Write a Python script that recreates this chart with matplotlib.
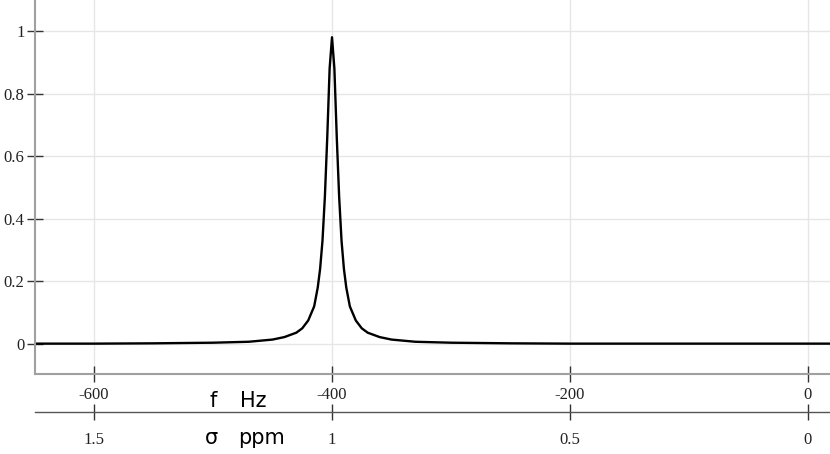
import matplotlib
matplotlib.use('Agg')
import matplotlib.pyplot as plt
from matplotlib.ticker import FuncFormatter

# spectrum
freq_hz = [-650, -600, -550, -500, -470, -450, -440, -430, -425, -420, -415,
           -412, -410, -408, -406, -404, -402, -400, -398, -396, -394, -392,
           -390, -388, -385, -380, -375, -370, -360, -350, -330, -300, -250,
           -200, -150, -100, -50, 0, 20]
amp = [0.001, 0.001, 0.002, 0.004, 0.007, 0.014, 0.022, 0.036, 0.050, 0.075,
       0.120, 0.180, 0.240, 0.330, 0.470, 0.660, 0.880, 0.980, 0.880, 0.660,
       0.470, 0.330, 0.240, 0.180, 0.120, 0.075, 0.050, 0.036, 0.022, 0.014,
       0.007, 0.004, 0.002, 0.001, 0.001, 0.001, 0.001, 0.001, 0.001]

hz_ticks = [-600, -400, -200, 0]
ppm_ticks = [1.5, 1, 0.5, 0]
y_ticks = [0, 0.2, 0.4, 0.6, 0.8, 1]
hz_per_ppm = 400.0

plt.rcParams['axes.unicode_minus'] = False

fig = plt.figure(figsize=(8.3, 4.54), dpi=100)
ax = fig.add_axes([35 / 830, 80 / 454, 795 / 830, 374 / 454])

ax.plot(freq_hz, amp, color='black', lw=1.7)

ax.set_xlim(-649.6, 18.5)
ax.set_ylim(-0.096, 1.099)
ax.set_xticks(hz_ticks)
ax.set_yticks(y_ticks)
ax.yaxis.set_major_formatter(FuncFormatter(lambda v, p: '%g' % v))
ax.grid(True, color='#e6e6e6', lw=1)
ax.set_axisbelow(True)

for s in ['top', 'right']:
    ax.spines[s].set_visible(False)
for s in ['left', 'bottom']:
    ax.spines[s].set_color('#a0a0a0')
    ax.spines[s].set_linewidth(1.5)

tick_family = 'Liberation Serif'
tick_size = 12
ax.tick_params(axis='y', direction='inout', length=11, width=1,
               color='#333333', labelcolor='#222222', pad=2)
ax.tick_params(axis='x', direction='inout', length=11, width=1,
               color='#333333', labelcolor='#222222', pad=4)
for lab in ax.get_xticklabels() + ax.get_yticklabels():
    lab.set_fontfamily(tick_family)
    lab.set_fontsize(tick_size)

# second scale in ppm
sec = ax.secondary_xaxis('bottom', functions=(lambda f: -f / hz_per_ppm,
                                              lambda p: -p * hz_per_ppm))
sec.spines['bottom'].set_position(('outward', 27.4))
sec.spines['bottom'].set_color('#555555')
sec.spines['bottom'].set_linewidth(1)
sec.set_xticks(ppm_ticks)
sec.xaxis.set_major_formatter(FuncFormatter(lambda v, p: '%g' % v))
sec.tick_params(direction='inout', length=11, width=1, color='#333333',
                labelcolor='#222222', pad=9)
for lab in sec.get_xticklabels():
    lab.set_fontfamily(tick_family)
    lab.set_fontsize(tick_size)

fig.text(210 / 830, 1 - 401 / 454, 'f', fontsize=15, ha='left', va='center',
         family='DejaVu Sans')
fig.text(240 / 830, 1 - 401 / 454, 'Hz', fontsize=15, ha='left', va='center',
         family='DejaVu Sans')
fig.text(205 / 830, 1 - 438 / 454, 'σ', fontsize=15, ha='left', va='center',
         family='DejaVu Sans')
fig.text(238 / 830, 1 - 438 / 454, 'ppm', fontsize=15, ha='left', va='center',
         family='DejaVu Sans')

fig.savefig('out.png', dpi=100)
